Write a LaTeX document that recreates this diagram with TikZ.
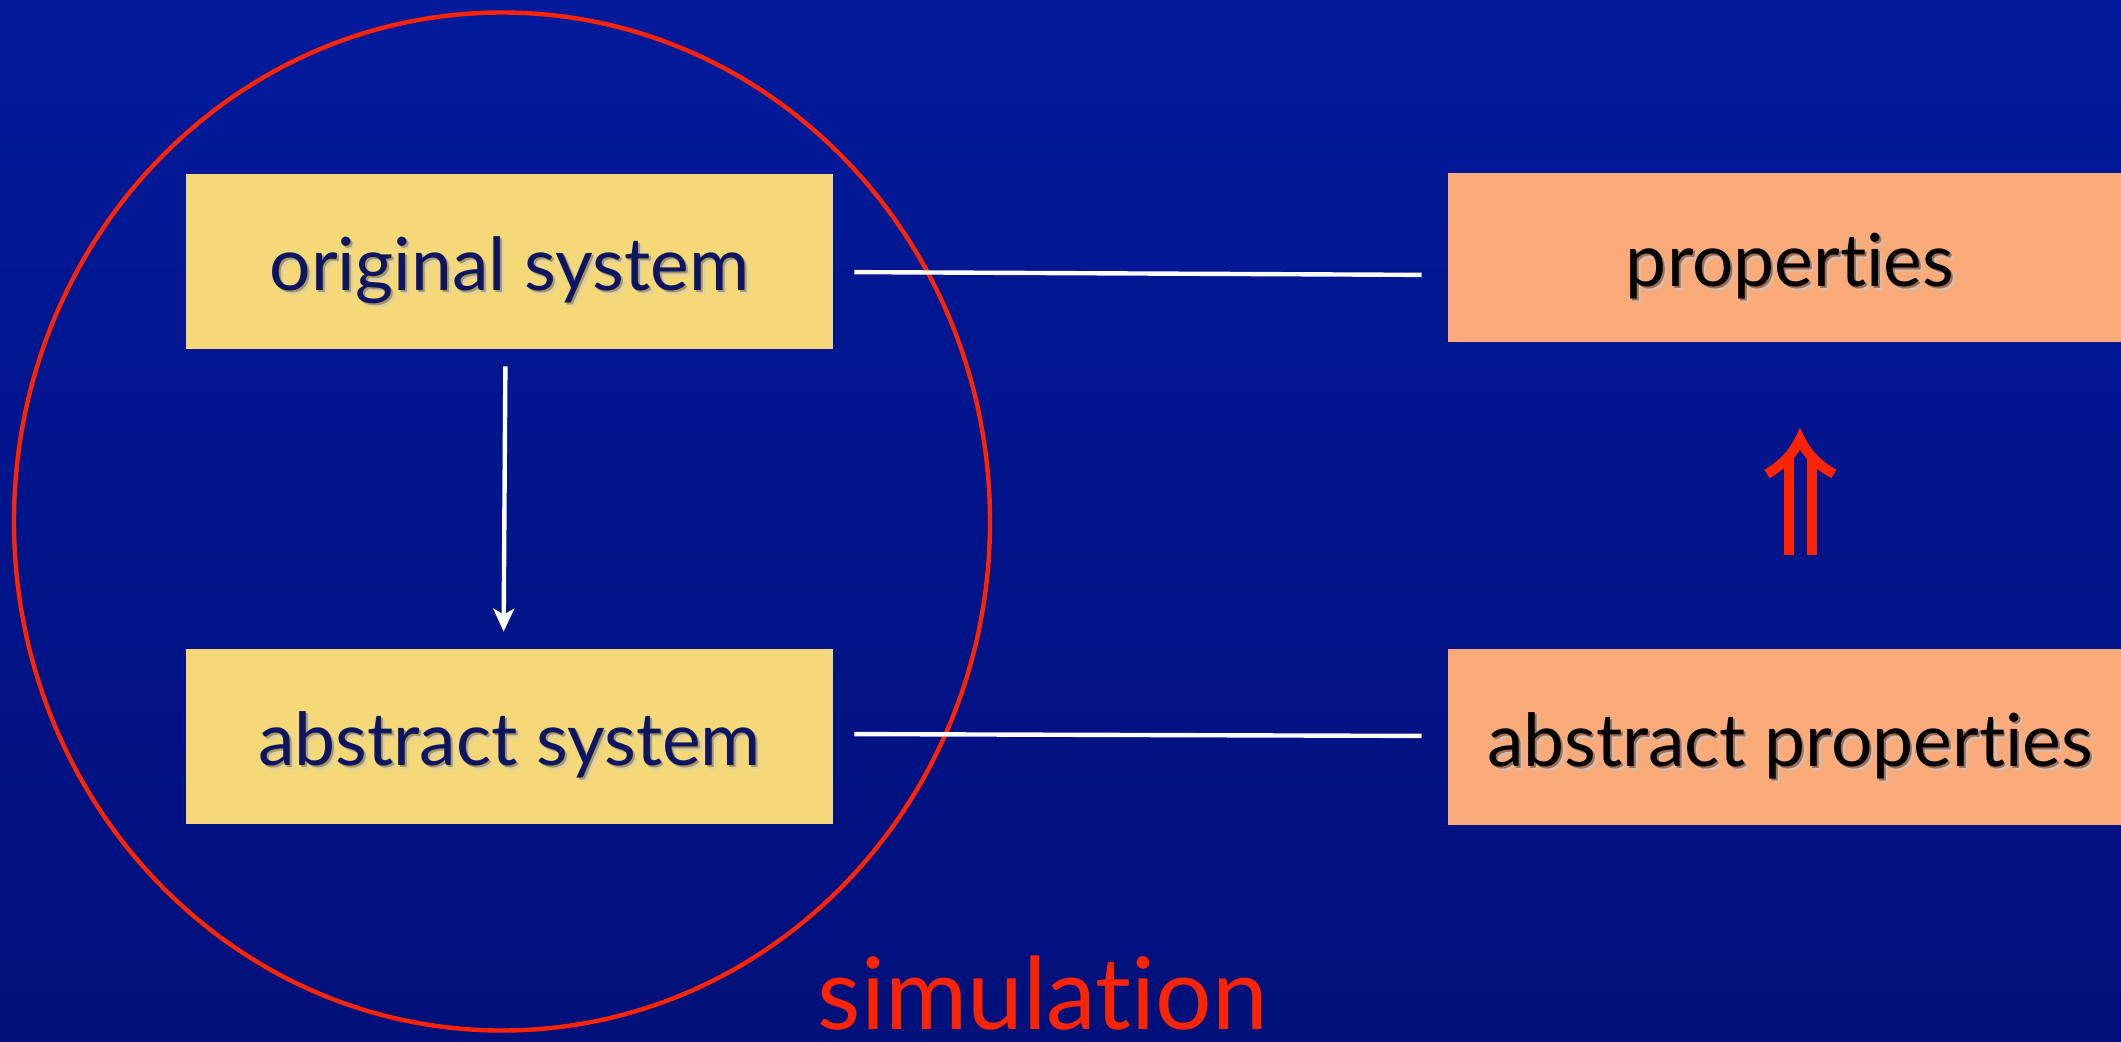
\documentclass[tikz,border=0pt]{standalone}
\usepackage{fontspec}
\setmainfont{Lato}[Ligatures={NoCommon,NoRare}]
\usetikzlibrary{arrows.meta,shapes.geometric}
\definecolor{bgtop}{RGB}{2,26,155}
\definecolor{bgbot}{RGB}{0,16,122}
\definecolor{boxyellow}{RGB}{245,216,120}
\definecolor{boxorange}{RGB}{251,170,122}
\definecolor{navytext}{RGB}{12,20,100}
\definecolor{simred}{RGB}{255,36,0}
\newcommand\shtext[2]{\rlap{\textcolor{#2!45}{\kern2pt\raisebox{-2pt}{#1}}}\rlap{\textcolor{#2}{\kern1pt\raisebox{-1pt}{#1}}}#1}
\begin{document}
\begin{tikzpicture}[x=0.5pt,y=-0.5pt,
  boxbase/.style={rectangle, inner sep=0pt, font=\fontsize{36.6}{40}\selectfont,
    text height=29pt, text depth=0pt},
  ybox/.style={boxbase, fill=boxyellow, text=navytext, minimum width=323.5pt, minimum height=87.5pt},
  obox/.style={boxbase, fill=boxorange, text=black, minimum width=342pt},
  wline/.style={draw=white, line width=2.2pt, shorten <=10.5pt, shorten >=13pt},
  warrow/.style={draw=white, line width=2.2pt, shorten <=8.5pt, shorten >=8.5pt,
    -{Stealth[length=11.5pt,width=10.5pt,inset=3pt]}},
  redline/.style={draw=simred, line width=5pt}
]
\useasboundingbox (0,0) rectangle (2121,1041);
\shade[top color=bgtop,bottom color=bgbot] (0,0) rectangle (2121,1041);

% simulation ring
\node[ellipse, draw=simred, line width=2.2pt, inner sep=0pt,
  minimum width=488pt, minimum height=509pt] (simring) at (502,521.5) {};

% boxes
\node[ybox] (os) at (509.5,261.5) {\shtext{original system}{boxyellow!70!black}};
\node[ybox] (as) at (509.5,736.5) {\shtext{abstract system}{boxyellow!70!black}};
\node[obox, minimum height=84.5pt] (prop) at (1790,257.5) {\shtext{properties}{boxorange!65!black}};
\node[obox, minimum height=88pt] (aprop) at (1790,737) {\shtext{abstract properties}{boxorange!65!black}};

% connectors
\draw[warrow] ([xshift=-2pt]os.south) -- ([xshift=-3pt]as.north);
\draw[wline] ([yshift=-5.25pt]os.east) -- ([yshift=-8.75pt]prop.west);
\draw[wline] ([yshift=1.25pt]as.east) -- ([yshift=0.5pt]aprop.west);

% implication double arrow
\coordinate (impl) at (1800,496);
\draw[redline] ([shift={(-11.5,59)}]impl) -- ([shift={(-11.5,-42)}]impl);
\draw[redline] ([shift={(12,59)}]impl) -- ([shift={(12,-42)}]impl);
\draw[redline, line join=miter] ([shift={(-33,-22)}]impl)
  .. controls ([shift={(-16,-32)}]impl) and ([shift={(-6,-44)}]impl) .. ([shift={(0,-57)}]impl)
  .. controls ([shift={(6,-44)}]impl) and ([shift={(16,-32)}]impl) .. ([shift={(34,-22)}]impl);

% label
\node[font=\fontsize{50}{54}\selectfont, text=simred, anchor=base, inner sep=0pt, text depth=0pt] (simlabel) at (1043,1029) {simulation};
\end{tikzpicture}
\end{document}
